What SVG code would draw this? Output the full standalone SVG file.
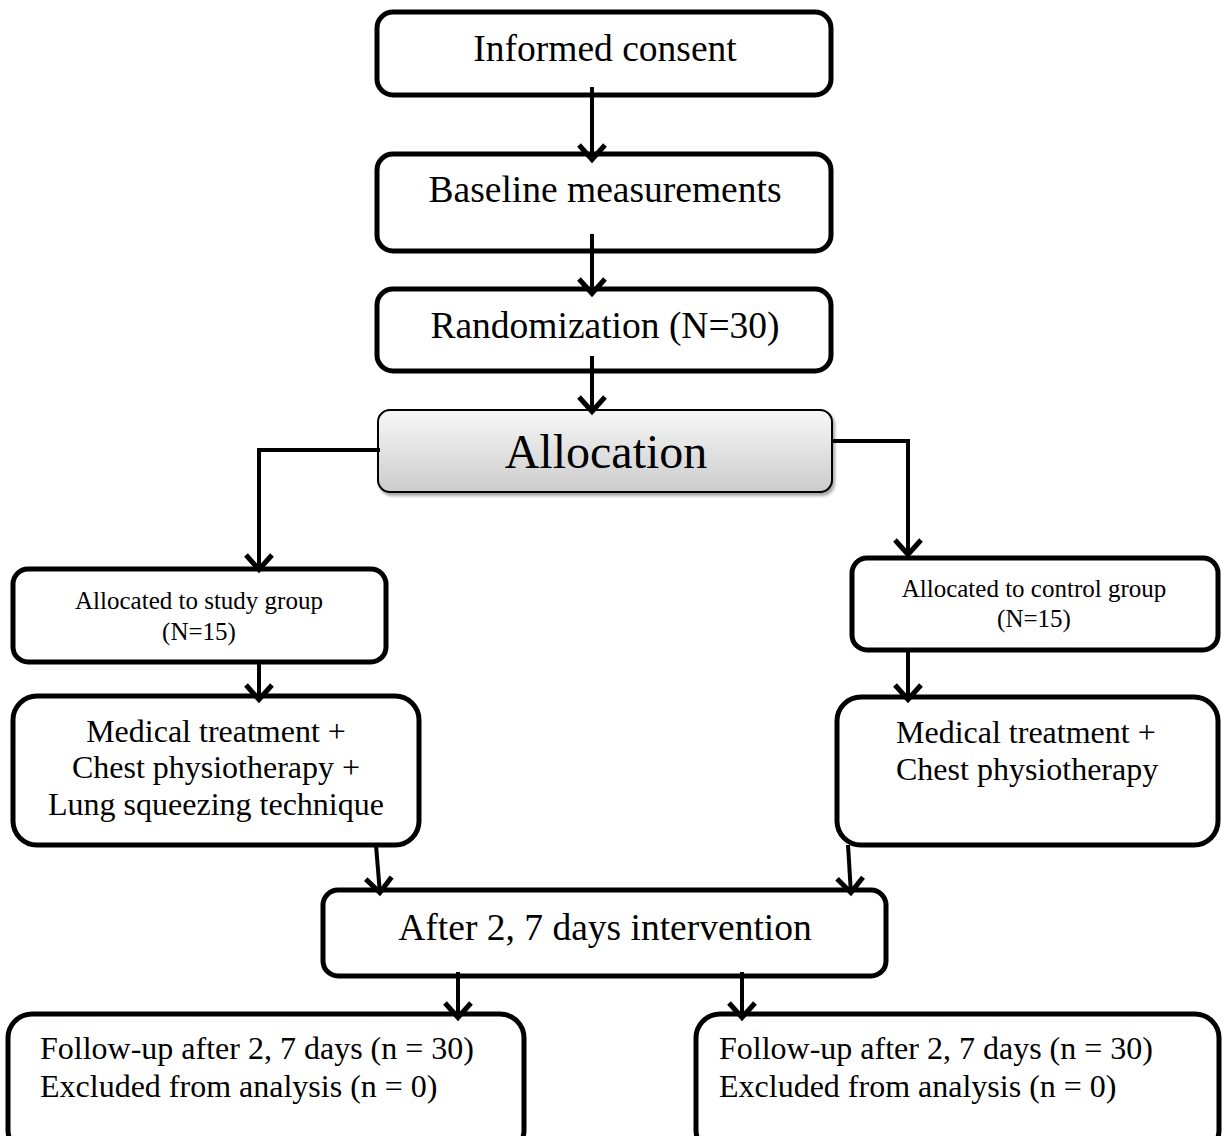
<svg xmlns="http://www.w3.org/2000/svg" width="1222" height="1136" viewBox="0 0 1222 1136">
<defs>
<style>
.box{fill:#fff;stroke:#000;stroke-width:5}
.t{font-family:"Liberation Serif","Times New Roman",serif;fill:#000}
.c{fill:none;stroke:#000;stroke-width:4}
</style>
<marker id="ah" markerUnits="userSpaceOnUse" markerWidth="34" markerHeight="38" viewBox="-22 -19 26 38" refX="0" refY="0" orient="auto">
<path d="M-16,-13 L-1.5,0 L-16,13" fill="none" stroke="#000" stroke-width="5"/>
</marker>
<linearGradient id="g" x1="0" y1="0" x2="0" y2="1">
<stop offset="0" stop-color="#f7f7f7"/>
<stop offset="1" stop-color="#cccccc"/>
</linearGradient>
<filter id="sh" x="-5%" y="-10%" width="110%" height="130%">
<feDropShadow dx="2" dy="3" stdDeviation="1.5" flood-color="#000" flood-opacity="0.35"/>
</filter>
</defs>
<rect width="1222" height="1136" fill="#fff"/>
<g id="n1"><rect class="box" x="377" y="12" width="454" height="83" rx="16"/>
<text class="t" x="605" y="61" font-size="37.5" text-anchor="middle">Informed consent</text></g>
<g id="n2"><rect class="box" x="377" y="154" width="454" height="97" rx="16"/>
<text class="t" x="605" y="202" font-size="37.5" text-anchor="middle">Baseline measurements</text></g>
<g id="n3"><rect class="box" x="377" y="289" width="454" height="82" rx="16"/>
<text class="t" x="605" y="338" font-size="37.5" text-anchor="middle">Randomization (N=30)</text></g>
<g id="n4"><rect x="378" y="410" width="454" height="82" rx="12" fill="url(#g)" stroke="#000" stroke-width="2" filter="url(#sh)"/>
<text class="t" x="606" y="468" font-size="48" text-anchor="middle">Allocation</text></g>
<g id="n5"><rect class="box" x="13" y="569" width="373" height="93" rx="15"/>
<text class="t" x="199" y="609" font-size="25" text-anchor="middle">Allocated to study group</text>
<text class="t" x="199" y="640" font-size="25" text-anchor="middle">(N=15)</text></g>
<g id="n6"><rect class="box" x="852" y="558" width="366" height="92" rx="15"/>
<text class="t" x="1034" y="597" font-size="25" text-anchor="middle">Allocated to control group</text>
<text class="t" x="1034" y="627" font-size="25" text-anchor="middle">(N=15)</text></g>
<g id="n7"><rect class="box" x="13" y="696" width="406" height="149" rx="24"/>
<text class="t" x="216" y="742" font-size="32" text-anchor="middle">Medical treatment +</text>
<text class="t" x="216" y="778" font-size="32" text-anchor="middle">Chest physiotherapy +</text>
<text class="t" x="216" y="815" font-size="32" text-anchor="middle">Lung squeezing technique</text></g>
<g id="n8"><rect class="box" x="837" y="697" width="381" height="148" rx="24"/>
<text class="t" x="896" y="743" font-size="32">Medical treatment +</text>
<text class="t" x="896" y="780" font-size="32">Chest physiotherapy</text></g>
<g id="n9"><rect class="box" x="323" y="890" width="563" height="86" rx="15"/>
<text class="t" x="605" y="940" font-size="37.5" text-anchor="middle">After 2, 7 days intervention</text></g>
<g id="n10"><rect class="box" x="8" y="1014" width="516" height="140" rx="24"/>
<text class="t" x="40" y="1059" font-size="32">Follow-up after 2, 7 days (n = 30)</text>
<text class="t" x="40" y="1097" font-size="32">Excluded from analysis (n = 0)</text></g>
<g id="n11"><rect class="box" x="696" y="1014" width="523" height="140" rx="24"/>
<text class="t" x="719" y="1059" font-size="32">Follow-up after 2, 7 days (n = 30)</text>
<text class="t" x="719" y="1097" font-size="32">Excluded from analysis (n = 0)</text></g>
<g id="connectors">
<path class="c" d="M592,87 V161" marker-end="url(#ah)"/>
<path class="c" d="M592,234 V295" marker-end="url(#ah)"/>
<path class="c" d="M592,356 V413" marker-end="url(#ah)"/>
<path class="c" d="M380,450 H259 V571" marker-end="url(#ah)"/>
<path class="c" d="M833,441 H908 V556" marker-end="url(#ah)"/>
<path class="c" d="M259,662 V701" marker-end="url(#ah)"/>
<path class="c" d="M908,650 V701" marker-end="url(#ah)"/>
<path class="c" d="M376,845 L380,894" marker-end="url(#ah)"/>
<path class="c" d="M848,845 L851,894" marker-end="url(#ah)"/>
<path class="c" d="M458,972 V1019" marker-end="url(#ah)"/>
<path class="c" d="M742,972 V1019" marker-end="url(#ah)"/>
</g>
</svg>
